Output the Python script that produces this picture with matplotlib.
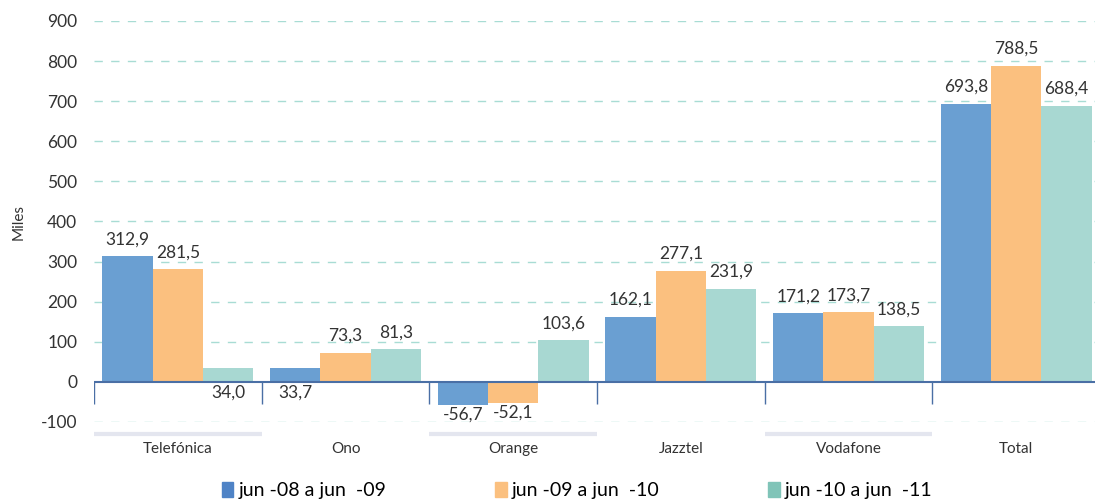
import matplotlib.pyplot as plt
import matplotlib.transforms as mtransforms
import numpy as np

plt.rcParams['font.family'] = ['Lato', 'DejaVu Sans']
plt.rcParams['axes.unicode_minus'] = False

categories = ['Telefónica', 'Ono', 'Orange', 'Jazztel', 'Vodafone', 'Total']
series_names = ['jun -08 a jun  -09', 'jun -09 a jun  -10', 'jun -10 a jun  -11']
jun08_09 = [312.9, 33.7, -56.7, 162.1, 171.2, 693.8]
jun09_10 = [281.5, 73.3, -52.1, 277.1, 173.7, 788.5]
jun10_11 = [34.0, 81.3, 103.6, 231.9, 138.5, 688.4]
colors = ['#6a9fd2', '#fbc07f', '#a8d8d2']
legend_colors = ['#4f83c6', '#fbc07f', '#80c4b8']

fig = plt.figure(figsize=(10.95, 4.99), dpi=100)
ax = fig.add_axes([94 / 1095, 77 / 499, 1006 / 1095, 401 / 499])

x = np.arange(len(categories))
w = 0.3
text_col = '#333333'

for i, (vals, c) in enumerate(zip([jun08_09, jun09_10, jun10_11], colors)):
    pos = x + (i - 1) * w
    ax.bar(pos, vals, width=w, color=c, label=series_names[i], zorder=2)
    for p, v in zip(pos, vals):
        lbl = f'{v:.1f}'.replace('.', ',')
        if v < 0:
            ax.text(p, v - 5, lbl, ha='center', va='top', fontsize=12.5, color=text_col, zorder=3)
        elif v < 50:
            ax.text(p, -6, lbl, ha='center', va='top', fontsize=12.5, color=text_col, zorder=3)
        else:
            ax.text(p, v + 22, lbl, ha='center', va='bottom', fontsize=12.5, color=text_col, zorder=3)

# dashed grid
for g in range(-100, 1000, 100):
    if g == 0:
        continue
    ax.axhline(g, color='#a8dcd4', lw=1, ls=(0, (6, 6)), zorder=1)

ax.axhline(0, color='#4a6fa5', lw=1.5, zorder=3)
bounds = np.arange(len(categories) + 1) - 0.5
ax.vlines(bounds, -55, 0, color='#4a6fa5', lw=1, zorder=3)

ax.set_xlim(-0.5, len(categories) - 0.5)
ax.set_ylim(-100, 900)
ax.set_yticks(range(-100, 1000, 100))
ax.tick_params(axis='y', length=0, pad=12, labelsize=12.5, labelcolor=text_col)
ax.set_xticks([])
for s in ax.spines.values():
    s.set_visible(False)

trans = mtransforms.blended_transform_factory(ax.transData, ax.transAxes)
for i, cat in enumerate(categories):
    if i % 2 == 0:
        ax.plot([i - 0.5, i + 0.5], [-0.03, -0.03], transform=trans, color='#e4e6ef',
                lw=3, clip_on=False, solid_capstyle='butt')
    ax.text(i, -0.067, cat, transform=trans, ha='center', va='center', fontsize=11, color=text_col)

ax.set_ylabel('Miles', fontsize=11, color=text_col, labelpad=11)

handles = [plt.Rectangle((0, 0), 1, 1, color=c) for c in legend_colors]
fig.legend(handles, series_names, loc='lower center', ncol=3, frameon=False,
           bbox_to_anchor=(0.527, -0.035), fontsize=14, handlelength=0.6, handleheight=0.8,
           handletextpad=0.25, columnspacing=5.6)

fig.savefig('out.png', dpi=100)
